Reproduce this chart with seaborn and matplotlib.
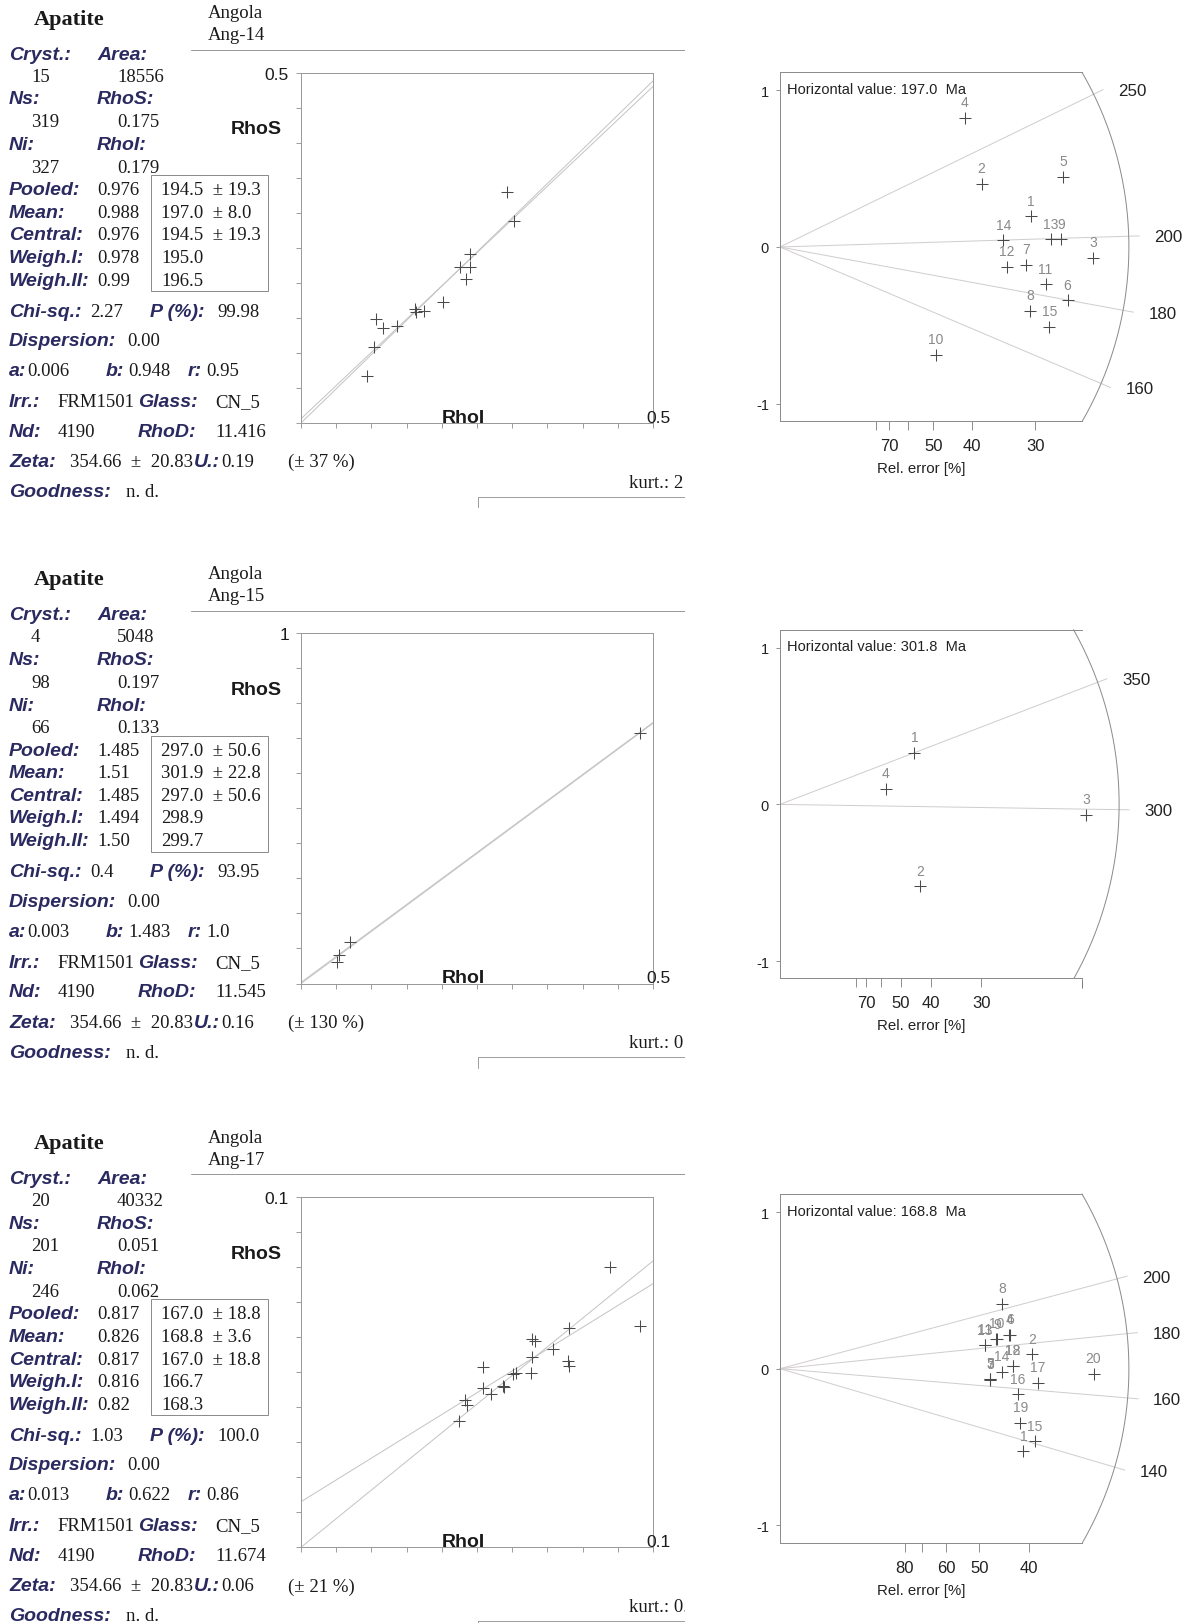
import numpy as np
import matplotlib
matplotlib.use("Agg")
import matplotlib.pyplot as plt
import matplotlib.transforms as mtransforms
from matplotlib.patches import Rectangle
import seaborn as sns

# ---------------- sample summary values ----------------
mineral = "Apatite"
locality = "Angola"
samples = ["Ang-14", "Ang-15", "Ang-17"]

n_cryst = ["15", "4", "20"]
area = ["18556", "5048", "40332"]
ns_tot = ["319", "98", "201"]
rho_s = ["0.175", "0.197", "0.051"]
ni_tot = ["327", "66", "246"]
rho_i = ["0.179", "0.133", "0.062"]

ratio_pooled = [0.976, 1.485, 0.817]
ratio_mean = ["0.988", "1.51", "0.826"]
ratio_central = ["0.976", "1.485", "0.817"]
ratio_w1 = ["0.978", "1.494", "0.816"]
ratio_w2 = ["0.99", "1.50", "0.82"]

age_pooled = ["194.5  ± 19.3", "297.0  ± 50.6", "167.0  ± 18.8"]
age_mean = ["197.0  ± 8.0", "301.9  ± 22.8", "168.8  ± 3.6"]
age_central = ["194.5  ± 19.3", "297.0  ± 50.6", "167.0  ± 18.8"]
age_w1 = ["195.0", "298.9", "166.7"]
age_w2 = ["196.5", "299.7", "168.3"]

chi_sq = ["2.27", "0.4", "1.03"]
p_chi = ["99.98", "93.95", "100.0"]
dispersion = ["0.00", "0.00", "0.00"]
reg_a = [0.006, 0.003, 0.013]
reg_b = [0.948, 1.483, 0.622]
reg_r = ["0.95", "1.0", "0.86"]
irradiation = "FRM1501"
glass = "CN_5"
nd_tracks = "4190"
rho_d = ["11.416", "11.545", "11.674"]
zeta = "354.66  ±  20.83"
u_val = ["0.19", "0.16", "0.06"]
u_pct = ["(± 37 %)", "(± 130 %)", "(± 21 %)"]
goodness = "n. d."
kurtosis = ["kurt.: 2", "kurt.: 0", "kurt.: 0."]

# ---------------- single-grain densities (RhoI, RhoS) ----------------
rhoi_14 = [0.292, 0.302, 0.2395, 0.2255, 0.2395, 0.235, 0.2014, 0.162, 0.1747,
           0.163, 0.1067, 0.116, 0.1366, 0.1036, 0.0934]
rhos_14 = [0.329, 0.2885, 0.241, 0.223, 0.223, 0.206, 0.173, 0.1625, 0.160,
           0.158, 0.149, 0.135, 0.139, 0.108, 0.0665]

rhoi_15 = [0.481, 0.070, 0.0534, 0.0508]
rhos_15 = [0.716, 0.1175, 0.0825, 0.0616]

rhoi_17 = [0.0879, 0.0962, 0.0762, 0.0657, 0.0666, 0.0716, 0.0656, 0.0758, 0.076, 0.0516,
           0.0654, 0.0611, 0.0602, 0.0516, 0.0573, 0.0577, 0.054, 0.0466, 0.0471, 0.045]
rhos_17 = [0.080, 0.0632, 0.0625, 0.0593, 0.059, 0.0565, 0.0542, 0.0532, 0.0518, 0.0513,
           0.0497, 0.0497, 0.0494, 0.0454, 0.046, 0.0456, 0.0436, 0.042, 0.0405, 0.036]

scatter_x = [rhoi_14, rhoi_15, rhoi_17]
scatter_y = [rhos_14, rhos_15, rhos_17]
scatter_xmax = [0.5, 0.5, 0.1]
scatter_ymax = [0.5, 1.0, 0.1]

# ---------------- radial plot: precision (1/rel. error) and standardised estimate ----------------
prec_14 = [3.274, 2.63, 4.087, 2.413, 3.696, 3.752, 3.209, 3.261, 3.665, 2.03,
           3.465, 2.957, 3.53, 2.913, 3.513]
z_14 = [0.196, 0.404, -0.068, 0.826, 0.447, -0.340, -0.113, -0.409, 0.049, -0.687,
        -0.238, -0.128, 0.049, 0.043, -0.511]

prec_15 = [2.225, 2.322, 5.067, 1.753]
z_15 = [0.329, -0.524, -0.068, 0.098]

prec_17 = [2.443, 2.527, 2.108, 2.302, 2.110, 2.304, 2.106, 2.226, 2.175, 2.172,
           2.056, 2.338, 2.058, 2.226, 2.560, 2.383, 2.584, 2.336, 2.410, 3.146]
z_17 = [-0.527, 0.091, -0.068, 0.215, -0.066, 0.217, -0.070, 0.416, 0.187, 0.189,
        0.151, 0.019, 0.149, -0.022, -0.463, -0.164, -0.090, 0.017, -0.345, -0.032]

radial_prec = [prec_14, prec_15, prec_17]
radial_z = [z_14, z_15, z_17]
horizontal_value = [197.0, 301.8, 168.8]
age_lines = [[250, 200, 180, 160], [350, 300], [200, 180, 160, 140]]
radial_prec_max = [3.94, 4.86, 3.03]
relerr_ticks = [[80, 70, 60, 50, 40, 30], [80, 70, 60, 50, 40, 30, 20], [80, 70, 60, 50, 40]]
relerr_labels = [["", "70", "", "50", "40", "30"],
                 ["", "70", "", "50", "40", "30", ""],
                 ["80", "", "60", "50", "40"]]

# ---------------- styling ----------------
W, H, DPI = 1192, 1624, 100
sns.set_style("white")
plt.rcParams["font.family"] = ["Liberation Sans", "DejaVu Sans"]
SERIF = ["Liberation Serif", "DejaVu Serif"]
SANS = ["Liberation Sans", "DejaVu Sans"]
NAVY = "#2a2a60"
INK = "#1a1a1a"
FRAME = "#8c8c8c"
FIT = "#c4c4c4"
CROSS = "#4a4a4a"
AGE_LINE = "#d2cdcd"
NUM = "#8a8a8a"
PX = 0.72  # points per pixel

STY = {
    "lab": dict(family=SANS, fontweight="bold", fontstyle="italic", fontsize=14, color=NAVY),
    "val": dict(family=SERIF, fontsize=13.5, color=INK),
    "title": dict(family=SERIF, fontweight="bold", fontsize=16, color=INK),
    "axlab": dict(family=SANS, fontweight="bold", fontsize=14, color=INK),
}

panel_off = [0.0, 560.5, 1124.3]
radial_top = [73.3, 630.7, 1195.0]
YLO, YHI = -1.11, 1.115

fig = plt.figure(figsize=(W / DPI, H / DPI), dpi=DPI)
fig.patch.set_facecolor("white")


def frac(x0, y0, x1, y1):
    return [x0 / W, 1 - y1 / H, (x1 - x0) / W, (y1 - y0) / H]


# text layer in pixel coordinates, clipped at the right edge of the summary block
bg = fig.add_axes(frac(0, 0, 684.5, H))
bg.set_xlim(0, 684.5)
bg.set_ylim(H, 0)
bg.axis("off")


def put(x, y, s, kind, **kw):
    bg.text(x, y, s, ha=kw.pop("ha", "left"), va="center", **STY[kind], **kw)


def summary_block(i, off):
    put(34, off + 20, mineral, "title")
    put(208, off + 14, locality, "val")
    put(208, off + 36, samples[i], "val")
    bg.plot([190.5, 684.5], [off + 51] * 2, color="#9a9a9a", lw=1.0 * PX)

    put(9, off + 55, "Cryst.:", "lab"); put(97, off + 55, "Area:", "lab")
    put(31, off + 77.3, n_cryst[i], "val"); put(117, off + 77.3, area[i], "val")
    put(9, off + 100, "Ns:", "lab"); put(97, off + 100, "RhoS:", "lab")
    put(31, off + 122.7, ns_tot[i], "val"); put(117, off + 122.7, rho_s[i], "val")
    put(9, off + 145.7, "Ni:", "lab"); put(97, off + 145.7, "RhoI:", "lab")
    put(31, off + 168.3, ni_tot[i], "val"); put(117, off + 168.3, rho_i[i], "val")

    rows = [("Pooled:", f"{ratio_pooled[i]:.3f}", age_pooled[i]),
            ("Mean:", ratio_mean[i], age_mean[i]),
            ("Central:", ratio_central[i], age_central[i]),
            ("Weigh.I:", ratio_w1[i], age_w1[i]),
            ("Weigh.II:", ratio_w2[i], age_w2[i])]
    for k, (lab, rv, av) in enumerate(rows):
        y = off + 190.7 + k * 22.6
        put(9, y, lab, "lab"); put(97, y, rv, "val"); put(161, y, av, "val")
    bg.add_patch(Rectangle((151, off + 176), 117, 116, fill=False, ec=FRAME, lw=1.0 * PX))

    put(9, off + 312.3, "Chi-sq.:", "lab"); put(90, off + 312.3, chi_sq[i], "val")
    put(150, off + 312.3, "P (%):", "lab"); put(217, off + 312.3, p_chi[i], "val")
    put(9, off + 341.7, "Dispersion:", "lab"); put(127, off + 341.7, dispersion[i], "val")
    put(9, off + 371.7, "a:", "lab"); put(27, off + 371.7, f"{reg_a[i]:.3f}", "val")
    put(106, off + 371.7, "b:", "lab"); put(128, off + 371.7, f"{reg_b[i]:.3f}", "val")
    put(188, off + 371.7, "r:", "lab"); put(206, off + 371.7, reg_r[i], "val")
    put(9, off + 402.7, "Irr.:", "lab"); put(57, off + 402.7, irradiation, "val")
    put(138, off + 402.7, "Glass:", "lab"); put(215, off + 402.7, glass, "val")
    put(9, off + 432.3, "Nd:", "lab"); put(58, off + 432.3, nd_tracks, "val")
    put(138, off + 432.3, "RhoD:", "lab"); put(215, off + 432.3, rho_d[i], "val")
    put(9, off + 462.7, "Zeta:", "lab"); put(70, off + 462.7, zeta, "val")
    put(194, off + 462.7, "U.:", "lab"); put(221, off + 462.7, u_val[i], "val")
    put(288, off + 462.7, u_pct[i], "val")
    put(9, off + 492.7, "Goodness:", "lab"); put(126, off + 492.7, goodness, "val")

    put(629, off + 483.5, kurtosis[i], "val", clip_on=True)
    bg.plot([477.5, 684.5], [off + 497.5] * 2, color="#a0a0a0", lw=1.0 * PX)
    bg.plot([477.5, 477.5], [off + 497.5, off + 508], color="#a0a0a0", lw=1.0 * PX)
    put(256, off + 130, "RhoS", "axlab", ha="center")


def scatter_panel(ax, i):
    xmax, ymax = scatter_xmax[i], scatter_ymax[i]
    xs = np.array([0.0, xmax])
    ax.plot(xs, ratio_pooled[i] * xs, color=FIT, lw=1.0 * PX, zorder=1)
    ax.plot(xs, reg_a[i] + reg_b[i] * xs, color=FIT, lw=1.0 * PX, zorder=1)
    sns.scatterplot(x=scatter_x[i], y=scatter_y[i], marker="+", s=78, color=CROSS,
                    linewidth=0.75, ax=ax, legend=False, zorder=3)
    ax.set_xlim(0, xmax)
    ax.set_ylim(0, ymax)
    ax.set_xticks(np.linspace(0, xmax, 11))
    ax.set_xticklabels([])
    ax.set_yticks(np.linspace(0, ymax, 11))
    ax.set_yticklabels([""] * 10 + [f"{ymax:g}"])
    ax.tick_params(axis="both", direction="out", length=5.4 * PX, width=0.8 * PX,
                   color="#888888", labelsize=12.5, labelcolor=INK, pad=6.6 * PX,
                   left=True, bottom=True)
    ax.set_xlabel("")
    ax.set_ylabel("")
    for sp in ax.spines.values():
        sp.set_color("#9a9a9a")
        sp.set_linewidth(1.0 * PX)
    ax.text(0.461, 0.004, "RhoI", transform=ax.transAxes, ha="center", va="baseline", **STY["axlab"])
    ax.text(1.016, 0.004, f"{xmax:g}", transform=ax.transAxes, ha="center", va="baseline",
            family=SANS, fontsize=12.5, color=INK, clip_on=False)


def radial_panel(ax, i):
    xmax = radial_prec_max[i]
    t0 = horizontal_value[i]
    pos = ax.get_position()
    wpx, hpx = pos.width * W, pos.height * H
    kx, ky = wpx / xmax, hpx / (YHI - YLO)
    R = np.hypot(wpx, YHI * ky)
    ax.set_xlim(0, xmax)
    ax.set_ylim(YLO, YHI)

    th = np.linspace(np.arcsin(YLO * ky / R), np.arcsin(YHI * ky / R), 300)
    ax.plot(R * np.cos(th) / kx, R * np.sin(th) / ky, color=FRAME, lw=1.0 * PX, clip_on=False)

    for t in age_lines[i]:
        ang = np.arctan(np.log(t / t0) * ky / kx)
        xe, ye = 1.03 * R * np.cos(ang) / kx, 1.03 * R * np.sin(ang) / ky
        ax.plot([0, xe], [0, ye], color=AGE_LINE, lw=1.0 * PX, clip_on=False, zorder=1)
        ax.annotate(f"{t:g}", (xe, ye), xytext=(15 * PX, -1 * PX), textcoords="offset points",
                    ha="left", va="center", fontsize=12.2, color="#222222", annotation_clip=False)

    sns.scatterplot(x=radial_prec[i], y=radial_z[i], marker="+", s=85, color=CROSS,
                    linewidth=0.75, ax=ax, legend=False, zorder=3, clip_on=False)
    for k, (p, z) in enumerate(zip(radial_prec[i], radial_z[i])):
        ax.annotate(str(k + 1), (p, z), xytext=(0, 11.3), textcoords="offset points",
                    ha="center", va="center", fontsize=10, color=NUM, annotation_clip=False)

    ticks = relerr_ticks[i]
    ax.set_xticks([100.0 / t for t in ticks])
    ax.set_xticklabels(relerr_labels[i])
    blend = mtransforms.blended_transform_factory(ax.transData, ax.transAxes)
    for t in ticks:
        if 100.0 / t > xmax:
            ax.plot([100.0 / t] * 2, [-2.5 / hpx, -9.5 / hpx], transform=blend,
                    color="#777777", lw=0.8 * PX, clip_on=False)
    ax.set_yticks([-1, 0, 1])
    ax.set_yticklabels(["-1", "0", "1"])
    ax.tick_params(axis="x", direction="out", length=9 * PX, width=0.8 * PX, color="#777777",
                   labelsize=12, labelcolor="#222222", pad=5.8, bottom=True)
    ax.tick_params(axis="y", direction="out", length=4 * PX, width=0.8 * PX, color="#777777",
                   labelsize=10.5, labelcolor="#222222", pad=5, left=True)
    ax.spines["right"].set_visible(False)
    for s in ("left", "top", "bottom"):
        ax.spines[s].set_color(FRAME)
        ax.spines[s].set_linewidth(1.0 * PX)
    ax.set_xlabel("")
    ax.set_ylabel("")
    ax.text(7.3 / wpx, 1 - 16.7 / hpx, f"Horizontal value: {t0:.1f}  Ma", transform=ax.transAxes,
            ha="left", va="center", fontsize=10.5, color="#222222")
    ax.text(141.7 / wpx, -47 / hpx, "Rel. error [%]", transform=ax.transAxes,
            ha="center", va="center", fontsize=10.8, color="#222222", clip_on=False)


for i, off in enumerate(panel_off):
    summary_block(i, off)
    sax = fig.add_axes(frac(301, off + 73.5, 653, off + 424))
    scatter_panel(sax, i)
    rax = fig.add_axes(frac(780, radial_top[i], 1082, radial_top[i] + 348.6))
    rax.patch.set_alpha(0)
    radial_panel(rax, i)

fig.savefig("out.png", dpi=DPI, facecolor="white")
